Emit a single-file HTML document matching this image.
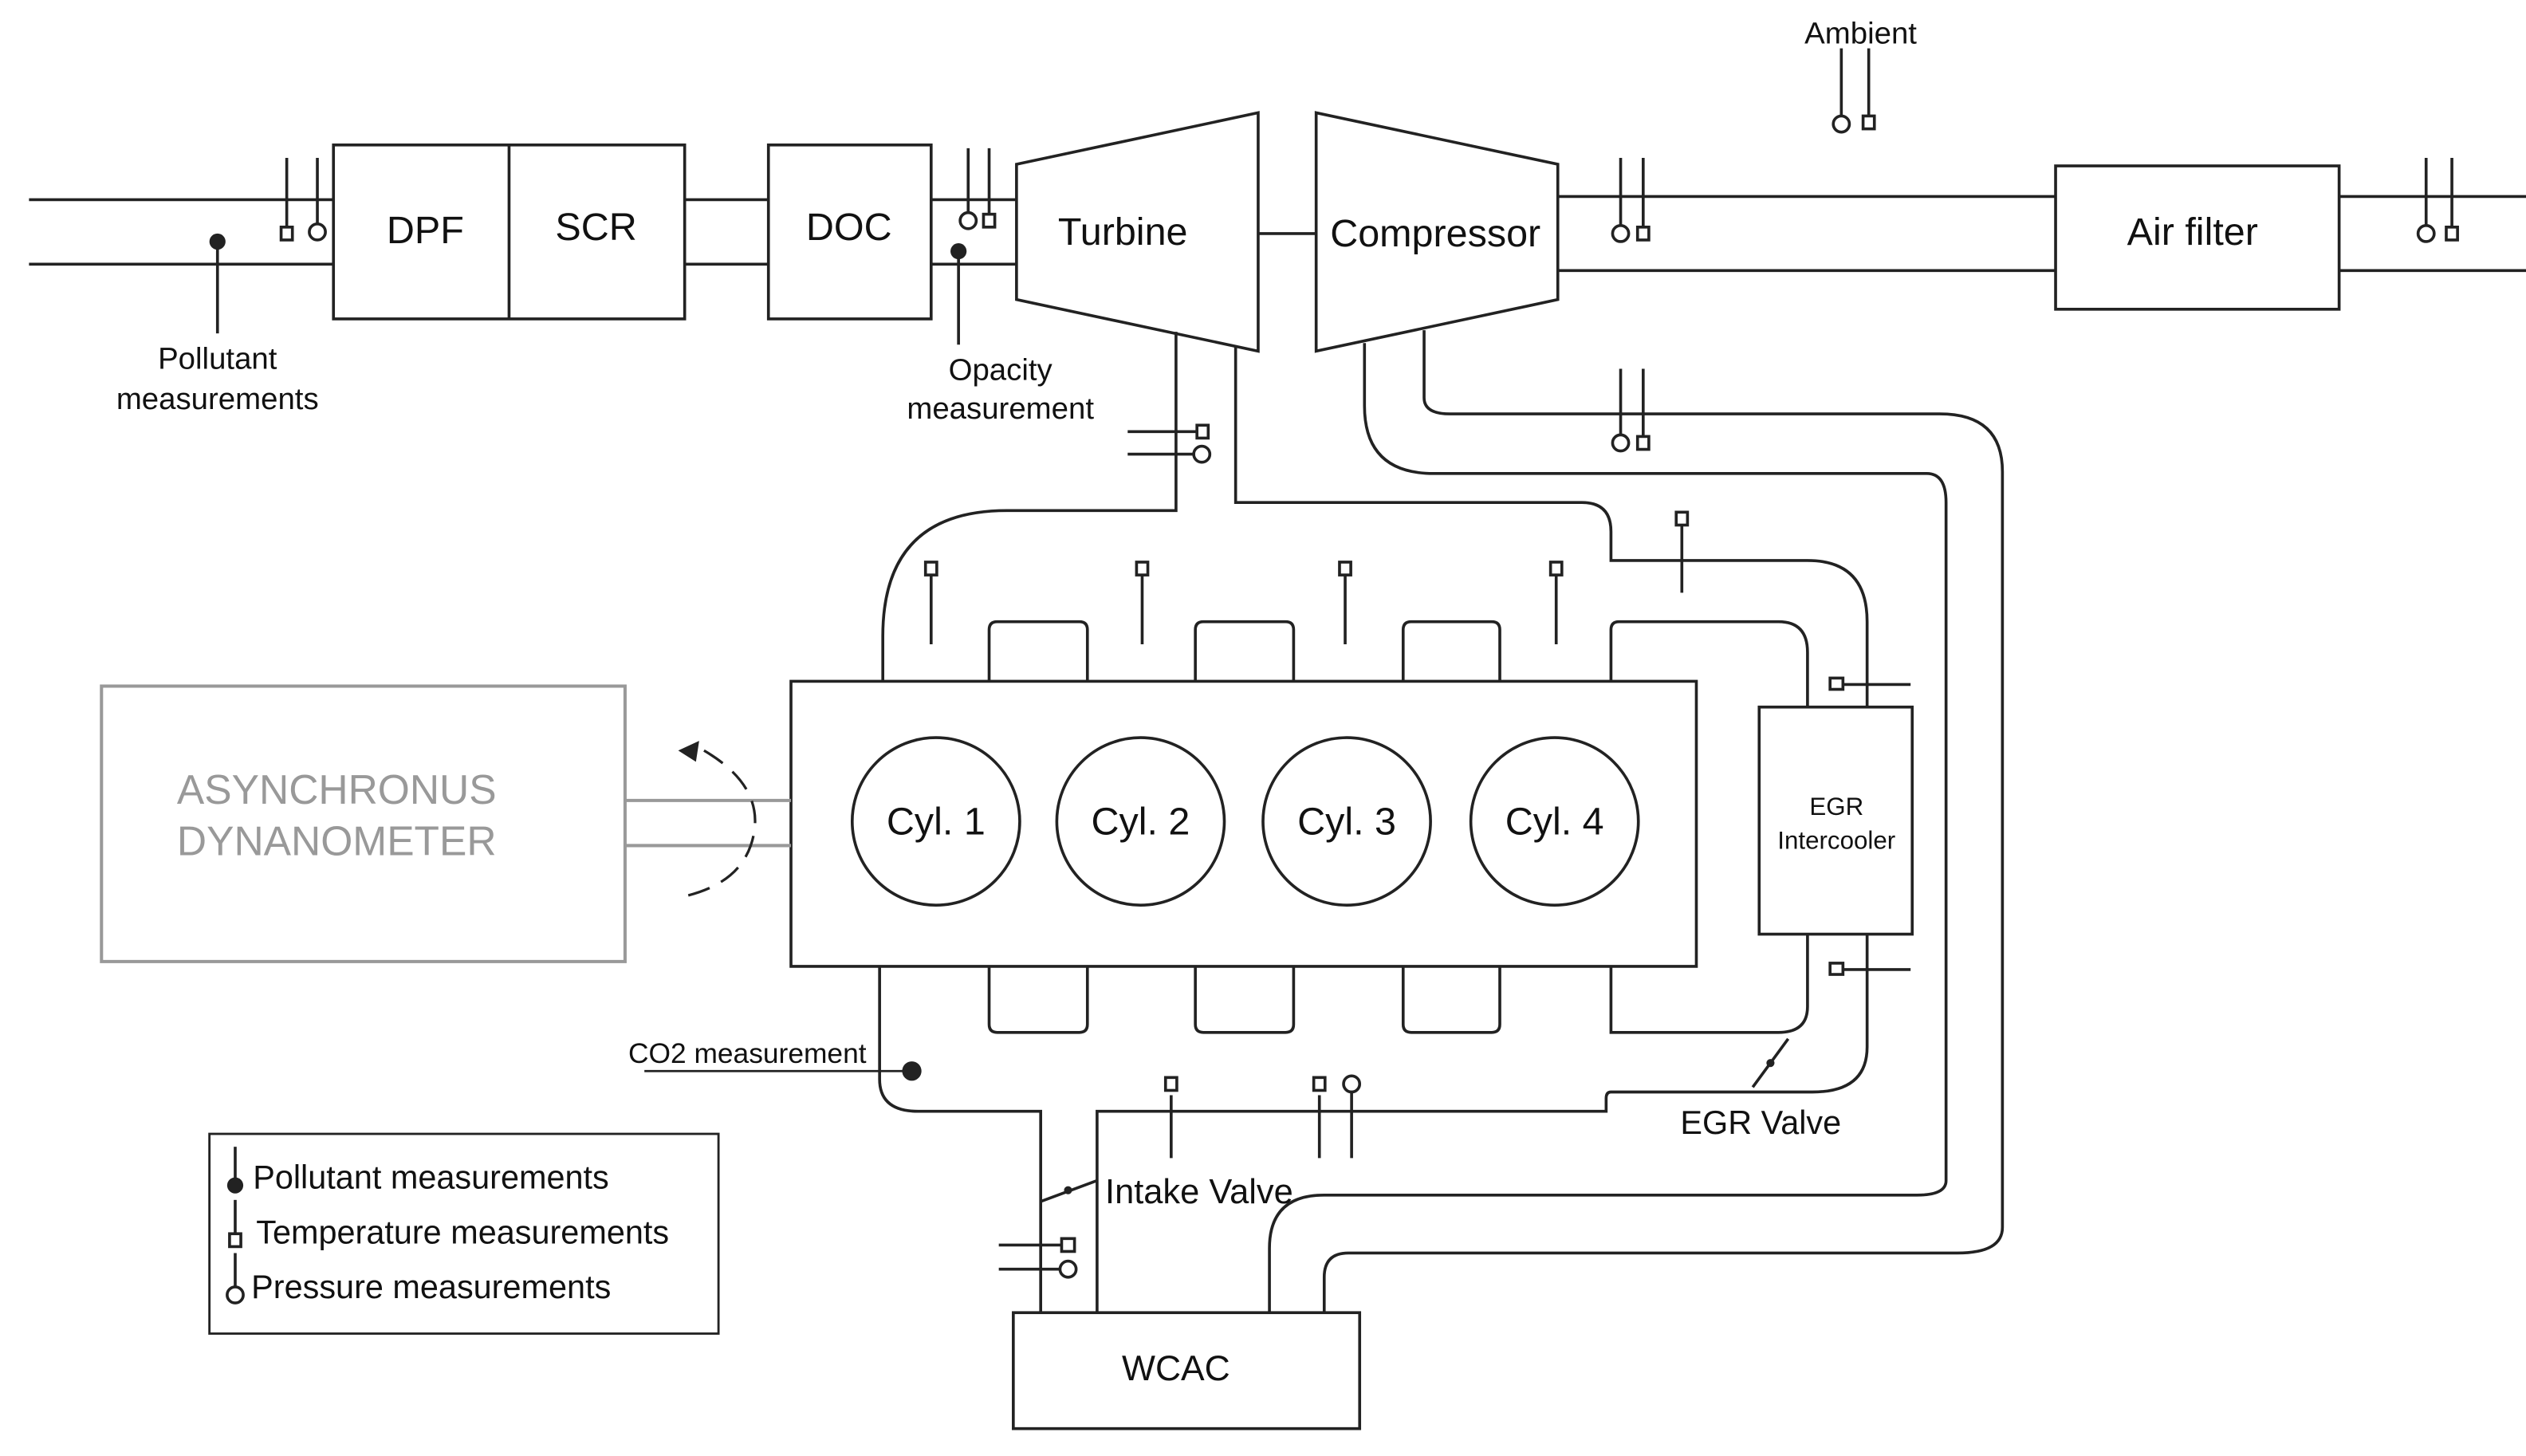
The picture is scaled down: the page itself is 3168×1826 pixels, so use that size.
<!DOCTYPE html>
<html><head><style>html,body{margin:0;padding:0;background:#fff}svg{display:block}</style></head>
<body>
<svg width="3168" height="1826" viewBox="0 0 1568 904" preserveAspectRatio="none" xmlns="http://www.w3.org/2000/svg" font-family="Liberation Sans, sans-serif">
<g fill="none" stroke="#222" stroke-width="1.8">
<line x1="18" y1="124" x2="207" y2="124"/><line x1="18" y1="164" x2="207" y2="164"/>
<rect x="207" y="90" width="218" height="108"/><line x1="316" y1="90" x2="316" y2="198"/>
<line x1="425" y1="124" x2="477" y2="124"/><line x1="425" y1="164" x2="477" y2="164"/>
<rect x="477" y="90" width="101" height="108"/>
<line x1="578" y1="124" x2="631" y2="124"/><line x1="578" y1="164" x2="631" y2="164"/>
<polygon points="631,102 781,70 781,218 631,186"/>
<line x1="781" y1="145" x2="817" y2="145"/>
<polygon points="817,70 967,102 967,186 817,218"/>
<line x1="967" y1="122" x2="1276" y2="122"/><line x1="967" y1="168" x2="1276" y2="168"/>
<rect x="1276" y="103" width="176" height="89"/>
<line x1="1452" y1="122" x2="1568" y2="122"/><line x1="1452" y1="168" x2="1568" y2="168"/>
<line x1="135" y1="150" x2="135" y2="207"/>
<line x1="178" y1="98" x2="178" y2="141"/><rect x="174.5" y="141" width="7" height="8"/>
<line x1="197" y1="98" x2="197" y2="139"/><circle cx="197" cy="144" r="5"/>
<line x1="601" y1="92" x2="601" y2="132"/><circle cx="601" cy="137" r="5"/>
<line x1="614" y1="92" x2="614" y2="133"/><rect x="610.5" y="133" width="7" height="8"/>
<line x1="595" y1="156" x2="595" y2="214"/>
<line x1="1143" y1="30" x2="1143" y2="72"/><circle cx="1143" cy="77" r="5"/>
<line x1="1160" y1="30" x2="1160" y2="72"/><rect x="1156.5" y="72" width="7" height="8"/>
<line x1="1006" y1="98" x2="1006" y2="140"/><circle cx="1006" cy="145" r="5"/>
<line x1="1020" y1="98" x2="1020" y2="141"/><rect x="1016.5" y="141" width="7" height="8"/>
<line x1="1506" y1="98" x2="1506" y2="140"/><circle cx="1506" cy="145" r="5"/>
<line x1="1522" y1="98" x2="1522" y2="141"/><rect x="1518.5" y="141" width="7" height="8"/>
<path d="M730,206 V317 H625 Q548,317 548,395 V423"/>
<path d="M767,215 V312 H982 Q1000,312 1000,330 V348 H1122 Q1159,348 1159,386 V439"/>
<line x1="700" y1="268" x2="743" y2="268"/><rect x="743" y="264" width="7" height="8"/>
<line x1="700" y1="282" x2="741" y2="282"/><circle cx="746" cy="282" r="5"/>
<path d="M847,213 V252 Q847,294 890,294 H1196 Q1208,294 1208,312 V733 Q1208,742 1190,742 H822 Q788,742 788,775 V815"/>
<path d="M884,205 V247 Q884,257 900,257 H1204 Q1243,257 1243,293 V762 Q1243,778 1215,778 H837 Q822,778 822,793 V815"/>
<line x1="1006" y1="229" x2="1006" y2="270"/><circle cx="1006" cy="275" r="5"/>
<line x1="1020" y1="229" x2="1020" y2="271"/><rect x="1016.5" y="271" width="7" height="8"/>
<path d="M614,423 V391 Q614,386 619,386 H670 Q675,386 675,391 V423"/>
<path d="M742,423 V391 Q742,386 747,386 H798 Q803,386 803,391 V423"/>
<path d="M871,423 V391 Q871,386 876,386 H926 Q931,386 931,391 V423"/>
<path d="M1000,423 V391 Q1000,386 1005,386 H1104 Q1122,386 1122,405 V439"/>
<line x1="578" y1="357" x2="578" y2="400"/><rect x="574.5" y="349" width="7" height="8"/>
<line x1="709" y1="357" x2="709" y2="400"/><rect x="705.5" y="349" width="7" height="8"/>
<line x1="835" y1="357" x2="835" y2="400"/><rect x="831.5" y="349" width="7" height="8"/>
<line x1="966" y1="357" x2="966" y2="400"/><rect x="962.5" y="349" width="7" height="8"/>
<line x1="1044" y1="326" x2="1044" y2="368"/><rect x="1040.5" y="318" width="7" height="8"/>
<rect x="491" y="423" width="562" height="177"/>
<circle cx="581" cy="510" r="52"/><circle cx="708" cy="510" r="52"/><circle cx="836" cy="510" r="52"/><circle cx="965" cy="510" r="52"/>
<rect x="1092" y="439" width="95" height="141"/>
<line x1="1144" y1="425" x2="1186" y2="425"/><rect x="1136" y="421" width="8" height="7"/>
<line x1="1144" y1="602" x2="1186" y2="602"/><rect x="1136" y="598" width="8" height="7"/>
<path d="M614,600 V636 Q614,641 619,641 H670 Q675,641 675,636 V600"/>
<path d="M742,600 V636 Q742,641 747,641 H798 Q803,641 803,636 V600"/>
<path d="M871,600 V636 Q871,641 876,641 H926 Q931,641 931,636 V600"/>
<path d="M1000,600 V641 H1104 Q1122,641 1122,625 V580"/>
<path d="M1159,580 V650 Q1159,678 1125,678 H1000 Q997,678 997,682 V690 H681 V815"/>
<path d="M546,600 V670 Q546,690 570,690 H646 V815"/>
<line x1="1088" y1="675" x2="1110" y2="645"/>
<line x1="727" y1="680" x2="727" y2="719"/><rect x="723.5" y="669" width="7" height="8"/>
<line x1="819" y1="680" x2="819" y2="719"/><rect x="815.5" y="669" width="7" height="8"/>
<line x1="839" y1="678" x2="839" y2="719"/><circle cx="839" cy="673" r="5"/>
<line x1="646" y1="746" x2="681" y2="733"/>
<line x1="620" y1="773" x2="659" y2="773"/><rect x="659" y="769" width="8" height="8"/>
<line x1="620" y1="788" x2="658" y2="788"/><circle cx="663" cy="788" r="5"/>
<line x1="400" y1="665" x2="566" y2="665" stroke-width="1.4"/>
<rect x="629" y="815" width="215" height="72"/>
<rect x="130" y="704" width="316" height="124" stroke-width="1.4"/>
<line x1="146" y1="712" x2="146" y2="733"/>
<line x1="146" y1="745" x2="146" y2="766"/><rect x="142.5" y="766" width="7" height="8"/>
<line x1="146" y1="778" x2="146" y2="799"/><circle cx="146" cy="804" r="5"/>
</g>
<g fill="#222">
<circle cx="135" cy="150" r="5"/><circle cx="595" cy="156" r="5"/>
<circle cx="566" cy="665" r="6"/><circle cx="1099" cy="660" r="2.5"/><circle cx="663" cy="739" r="2.5"/>
<circle cx="146" cy="736" r="5"/>
</g>
<g fill="none" stroke="#999" stroke-width="2">
<rect x="63" y="426" width="325" height="171"/>
<line x1="388" y1="497" x2="491" y2="497"/><line x1="388" y1="525" x2="491" y2="525"/>
</g>
<path d="M437,466 Q478,490 466,525 Q458,548 427,556" fill="none" stroke="#222" stroke-width="1.6" stroke-dasharray="14,8"/>
<polygon points="421,466 434,460 432,473" fill="#222"/>
<g fill="#999" text-anchor="middle" font-size="25.5">
<text x="209" y="499">ASYNCHRONUS</text>
<text x="209" y="531">DYNANOMETER</text>
</g>
<g fill="#111" text-anchor="middle" font-size="24">
<text x="264" y="151">DPF</text><text x="370" y="149">SCR</text><text x="527" y="149">DOC</text>
<text x="697" y="152">Turbine</text><text x="891" y="153">Compressor</text><text x="1361" y="152">Air filter</text>
<text x="581" y="518">Cyl. 1</text><text x="708" y="518">Cyl. 2</text><text x="836" y="518">Cyl. 3</text><text x="965" y="518">Cyl. 4</text>
<text x="730" y="857" font-size="22">WCAC</text>
</g>
<g fill="#111" font-size="19" text-anchor="middle">
<text x="135" y="229">Pollutant</text><text x="135" y="254">measurements</text>
<text x="621" y="236">Opacity</text><text x="621" y="260">measurement</text>
<text x="1155" y="27">Ambient</text>
<text x="1140" y="506" font-size="15.5">EGR</text><text x="1140" y="527" font-size="15.5">Intercooler</text>
<text x="1093" y="704" font-size="20.5">EGR Valve</text>
</g>
<g fill="#111" font-size="20.5">
<text x="686" y="747" font-size="21.5">Intake Valve</text>
<text x="390" y="660" font-size="17.5">CO2 measurement</text>
<text x="157" y="738">Pollutant measurements</text>
<text x="159" y="772">Temperature measurements</text>
<text x="156" y="806">Pressure measurements</text>
</g>
</svg>
</body></html>
